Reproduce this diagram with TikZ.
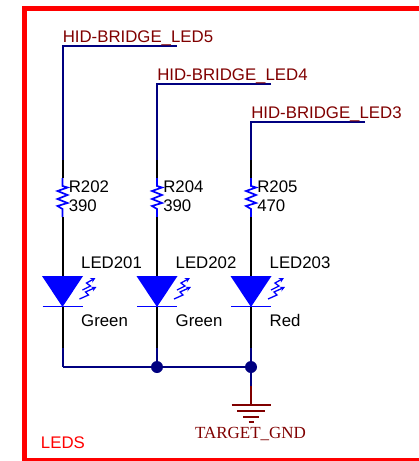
\documentclass[tikz,border=0pt]{standalone}
\usepackage{fontspec}
\setmainfont{Liberation Sans}
\newfontfamily\serifgnd{Liberation Serif}
\usetikzlibrary{arrows.meta}
\definecolor{wirenavy}{RGB}{0,0,128}
\definecolor{netred}{RGB}{128,0,0}
\definecolor{partblue}{RGB}{0,0,255}
\definecolor{framered}{RGB}{255,0,0}
\tikzset{
  lbl/.style={anchor=base west,inner sep=0pt,outer sep=0pt,font=\fontsize{16.8}{18}\selectfont,text=black},
  netlbl/.style={lbl,text=netred},
  navywire/.style={draw=wirenavy,line width=2pt},
  blackwire/.style={draw=black,line width=2pt},
  bluepart/.style={draw=partblue,line width=1.7pt},
  gndbar/.style={draw=netred,line width=2pt},
  junction/.style={circle,fill=wirenavy,inner sep=0pt,minimum size=12pt},
  glow/.style={draw=partblue,line width=1.3pt,-{Stealth[length=5pt,width=5pt]}}
}
\newcommand{\ledbranch}[8]{%
  \coordinate (net#1) at (#2+114,#3);
  \coordinate (top#1) at (#2,#3);
  \coordinate (nb#1) at (#2,160);
  \coordinate (ra#1) at (#2,178);
  \coordinate (rb#1) at (#2,217);
  \coordinate (la#1) at (#2,276);
  \coordinate (lb#1) at (#2,307);
  \coordinate (bk#1) at (#2,348);
  \coordinate (bus#1) at (#2,367);
  \draw[navywire] (net#1) -- (top#1) -- (nb#1);
  \draw[blackwire] (nb#1) -- (ra#1);
  \draw[bluepart] (ra#1) -- (#2,186) -- (#2+5,187.5) -- (#2-5,191) -- (#2+5,195) -- (#2-5,199) -- (#2+5,203) -- (#2-5,206) -- (#2,209) -- (rb#1);
  \draw[blackwire] (rb#1) -- (la#1);
  \draw[blackwire] (lb#1) -- (bk#1);
  \draw[navywire] (bk#1) -- (bus#1);
  \fill[partblue] (#2-20.5,276) -- (#2+20.5,276) -- (lb#1) -- cycle;
  \draw[bluepart] (#2-20,306.5) -- (#2+20,306.5);
  \draw[glow] (#2+20,290) -- (#2+28,286) -- (#2+24,283) -- (#2+33,278);
  \draw[glow] (#2+17,299) -- (#2+26,295) -- (#2+23,292) -- (#2+34,287);
  \node[netlbl] (netl#1) at (#2+0.3,#3-4) {#4};
  \node[lbl] (rn#1) at (#2+6.3,192) {#5};
  \node[lbl] (rv#1) at (#2+6.3,211) {#6};
  \node[lbl] (ln#1) at (#2+18.7,268.5) {#7};
  \node[lbl] (lc#1) at (#2+18.7,326) {#8};
}
\begin{document}
\begin{tikzpicture}[x=1pt,y=-1pt]
\useasboundingbox (0,0) rectangle (419,461);
\begin{scope}
\clip (0,0) rectangle (419,461);
\draw[framered,line width=5.5pt] (425,8.3) -- (24.7,8.3) -- (24.7,461) -- (425,461);
\end{scope}
\ledbranch{a}{62.5}{46}{HID-BRIDGE\_LED5}{R202}{390}{LED201}{Green}
\ledbranch{b}{157}{84}{HID-BRIDGE\_LED4}{R204}{390}{LED202}{Green}
\ledbranch{c}{251}{122}{HID-BRIDGE\_LED3}{R205}{470}{LED203}{Red}
\node[junction] (jb) at (busb) {};
\node[junction] (jc) at (busc) {};
\draw[navywire] (busa) -- (jb) -- (jc);
\coordinate (gndtop) at (251,386);
\coordinate (gndjoin) at (251,405);
\draw[navywire] (jc) -- (gndtop);
\draw[gndbar] (gndtop) -- (gndjoin);
\draw[gndbar] (231.5,405) -- (271,405);
\draw[gndbar] (237,411) -- (265,411);
\draw[gndbar] (243,417) -- (259,417);
\draw[gndbar] (248.5,422) -- (253.5,422);
\node[netlbl,font=\serifgnd\fontsize{17}{18}\selectfont] (gndl) at (195,438) {TARGET\_GND};
\node[lbl,text=framered] (ledsl) at (41,448) {LEDS};
\end{tikzpicture}
\end{document}
